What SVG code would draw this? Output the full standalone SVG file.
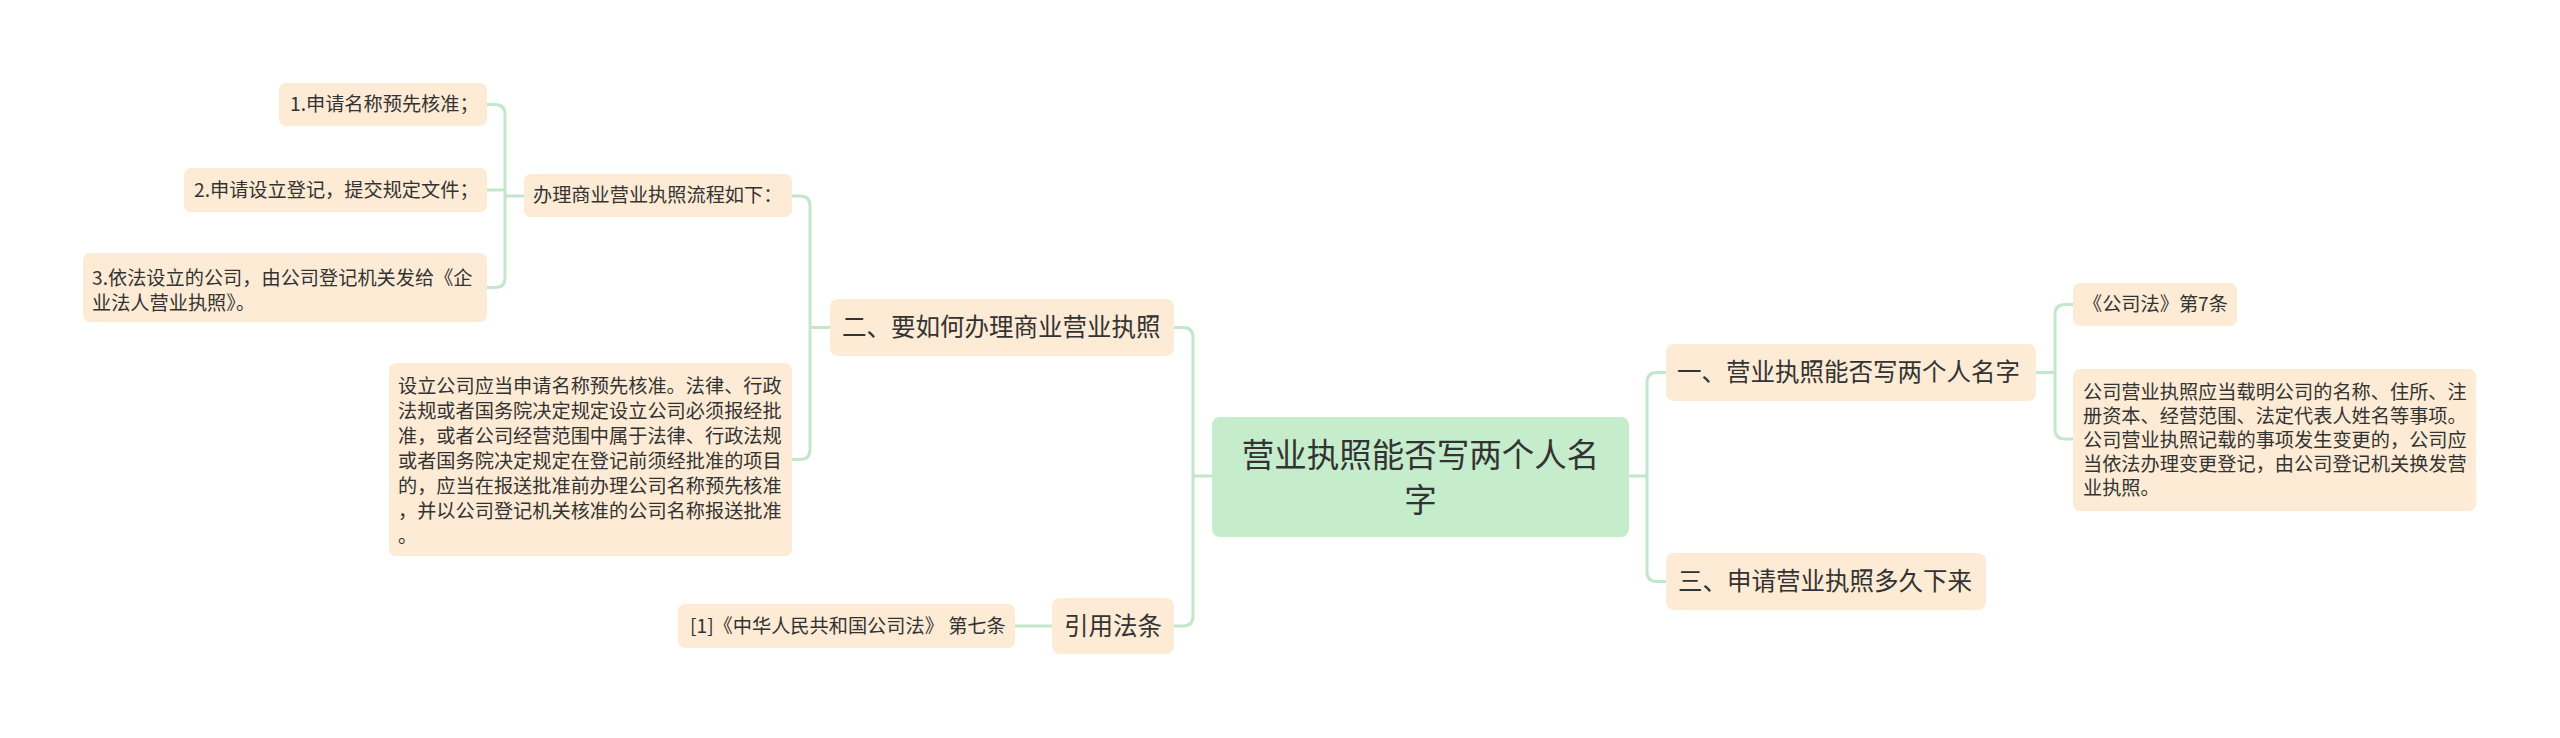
<svg xmlns="http://www.w3.org/2000/svg" width="2560" height="738" viewBox="0 0 2560 738">
<style>
.bg{fill:#ffffff}
.node{fill:#fdebd5}
.root{fill:#c5eccb}
.t{font-family:"Noto Sans CJK SC","Noto Sans",sans-serif;fill:#333333}
.s{font-size:19.2px}
.m{font-size:24.5px}
.l{font-size:32.5px}
.conn path{fill:none;stroke:#c2e7ca;stroke-width:3;stroke-linecap:round}
</style>
<rect class="bg" x="0" y="0" width="2560" height="738"/>
<g id="connectors" class="conn">
<path d="M1212,476 H1193 M1193,476 V337.5 Q1193,327.5 1183,327.5 H1174 M1193,476 V616 Q1193,626 1183,626 H1174"/>
<path d="M1629,476 H1647 M1647,476 V382.5 Q1647,372.5 1657,372.5 H1666 M1647,476 V571.5 Q1647,581.5 1657,581.5 H1666"/>
<path d="M2036,372.5 H2055 M2055,372.5 V314.5 Q2055,304.5 2065,304.5 H2073 M2055,372.5 V429 Q2055,439 2065,439 H2073"/>
<path d="M830,327.5 H810 M810,327.5 V206 Q810,196 800,196 H792 M810,327.5 V449.5 Q810,459.5 800,459.5 H792"/>
<path d="M524,196 H505 M505,196 V114.5 Q505,104.5 495,104.5 H487 M505,196 V277.5 Q505,287.5 495,287.5 H487 M505,190 H487"/>
<path d="M1052,626 H1015"/>
</g>
<g id="root">
<rect class="root" x="1212" y="417" width="417" height="120" rx="8"/>
<text class="t l" x="1420.5" y="466.5" text-anchor="middle">营业执照能否写两个人名</text>
<text class="t l" x="1420.5" y="511.5" text-anchor="middle">字</text>
</g>
<g id="n-er">
<rect class="node" x="830" y="299" width="344" height="57" rx="8"/>
<text class="t m" x="842" y="336">二、要如何办理商业营业执照</text>
</g>
<g id="n-yinyong">
<rect class="node" x="1052" y="598" width="122" height="56" rx="8"/>
<text class="t m" x="1064" y="634.6">引用法条</text>
</g>
<g id="n-yi">
<rect class="node" x="1666" y="344" width="370" height="57" rx="8"/>
<text class="t m" x="1677" y="381">一、营业执照能否写两个人名字</text>
</g>
<g id="n-san">
<rect class="node" x="1666" y="553" width="320" height="57" rx="8"/>
<text class="t m" x="1678" y="590">三、申请营业执照多久下来</text>
</g>
<g id="n-banli">
<rect class="node" x="524" y="174" width="268" height="43" rx="7"/>
<text class="t s" x="533" y="202">办理商业营业执照流程如下：</text>
</g>
<g id="n-step1">
<rect class="node" x="279" y="83" width="208" height="43" rx="7"/>
<text class="t s" x="290" y="111">1.申请名称预先核准；</text>
</g>
<g id="n-step2">
<rect class="node" x="184" y="168" width="303" height="44" rx="7"/>
<text class="t s" x="194" y="197">2.申请设立登记，提交规定文件；</text>
</g>
<g id="n-step3">
<rect class="node" x="83" y="253" width="404" height="69" rx="7"/>
<text class="t s" x="92" y="284.7">3.依法设立的公司，由公司登记机关发给《企</text>
<text class="t s" x="92" y="309.7">业法人营业执照》。</text>
</g>
<g id="n-sheli">
<rect class="node" x="389" y="363" width="403" height="193" rx="7"/>
<text class="t s" x="398" y="393.4">设立公司应当申请名称预先核准。法律、行政</text>
<text class="t s" x="398" y="418.4">法规或者国务院决定规定设立公司必须报经批</text>
<text class="t s" x="398" y="443.4">准，或者公司经营范围中属于法律、行政法规</text>
<text class="t s" x="398" y="468.4">或者国务院决定规定在登记前须经批准的项目</text>
<text class="t s" x="398" y="493.4">的，应当在报送批准前办理公司名称预先核准</text>
<text class="t s" x="398" y="518.4">，并以公司登记机关核准的公司名称报送批准</text>
<text class="t s" x="398" y="543.4">。</text>
</g>
<g id="n-fatiao">
<rect class="node" x="678" y="604" width="337" height="44" rx="7"/>
<text class="t s" x="690" y="632.7">[1]《中华人民共和国公司法》 第七条</text>
</g>
<g id="n-gongsifa">
<rect class="node" x="2073" y="283" width="164" height="43" rx="7"/>
<text class="t s" x="2083" y="311">《公司法》第7条</text>
</g>
<g id="n-zaiming">
<rect class="node" x="2073" y="369" width="403" height="142" rx="7"/>
<text class="t s" x="2083" y="398.5">公司营业执照应当载明公司的名称、住所、注</text>
<text class="t s" x="2083" y="422.7">册资本、经营范围、法定代表人姓名等事项。</text>
<text class="t s" x="2083" y="446.8">公司营业执照记载的事项发生变更的，公司应</text>
<text class="t s" x="2083" y="471">当依法办理变更登记，由公司登记机关换发营</text>
<text class="t s" x="2083" y="495">业执照。</text>
</g>
</svg>
